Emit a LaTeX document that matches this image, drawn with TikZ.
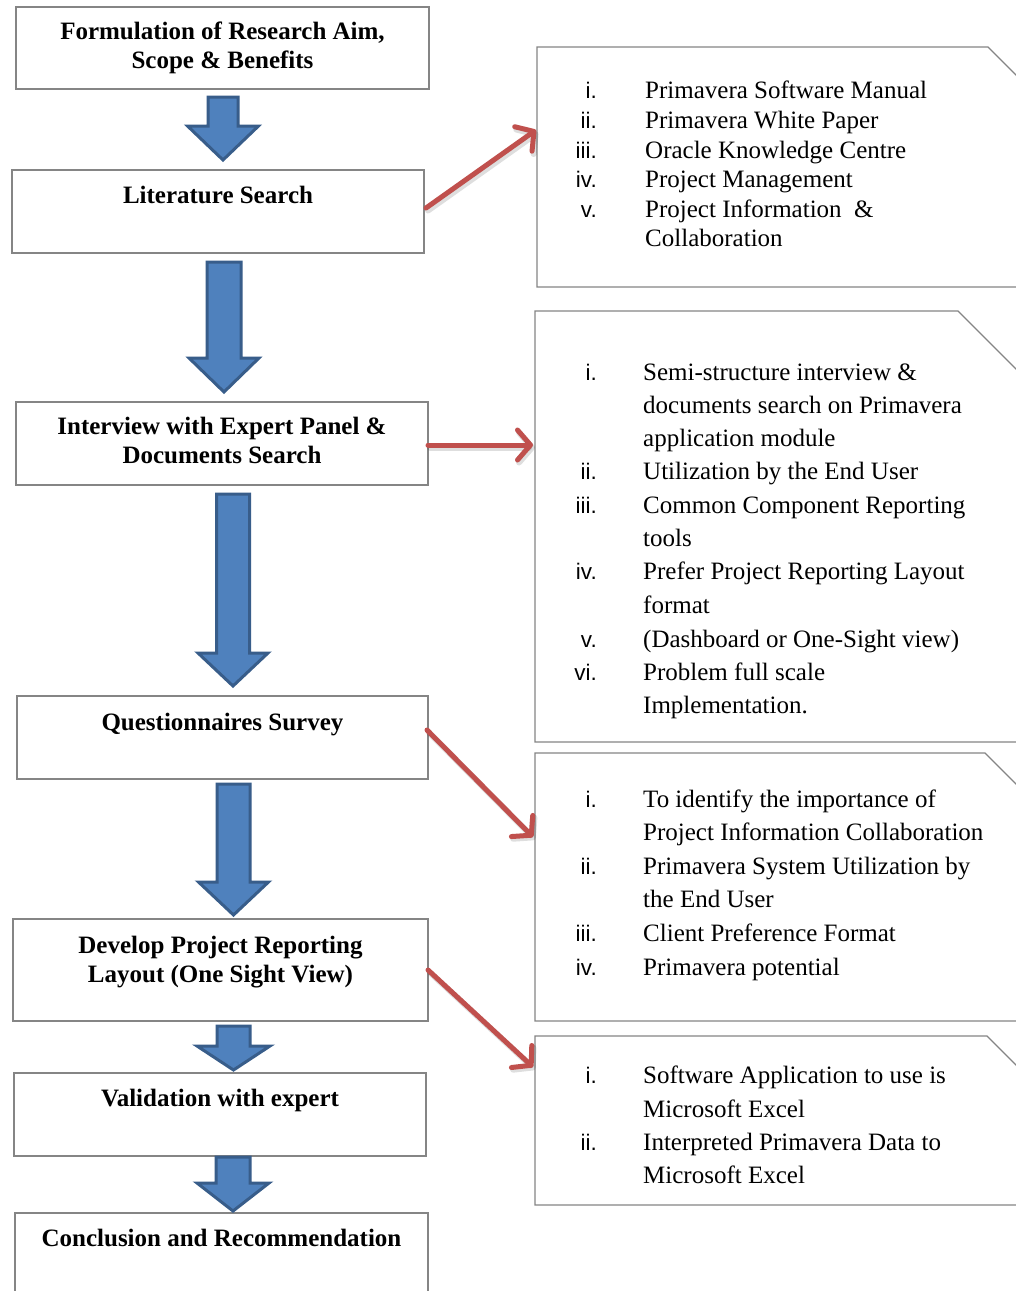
\documentclass[tikz,border=0pt]{standalone}
\usepackage{fontspec}
\setmainfont{Liberation Serif}
\newfontfamily\numfont{Liberation Sans}
\usetikzlibrary{arrows.meta,calc}
\definecolor{boxgray}{HTML}{858585}
\definecolor{arrowblue}{HTML}{4F81BD}
\definecolor{arrowedge}{HTML}{385D8A}
\definecolor{linkred}{HTML}{C0504D}
\tikzset{
  lbox/.style={draw=boxgray, line width=1.3pt, rectangle, inner sep=0pt},
  ltext/.style={anchor=base, font=\fontsize{25}{30}\selectfont\bfseries, inner sep=0pt},
  rframe/.style={draw=boxgray, line width=1.3pt, line join=miter},
  numtext/.style={anchor=base east, font=\numfont\fontsize{22.5}{28}\selectfont, inner sep=0pt},
  itemtext/.style={anchor=base west, font=\fontsize{25}{30}\selectfont, inner sep=0pt},
  blockarrow/.style={fill=arrowblue, draw=arrowedge, line width=3pt, line join=miter},
  redlink/.style={draw=linkred, line width=5pt, line cap=round,
    -{Straight Barb[length=13pt,width=30pt,line cap=round,line join=round]}},
  redshadow/.style={draw=black, opacity=0.13, line width=6pt, line cap=round,
    -{Straight Barb[length=13pt,width=30pt,line cap=round,line join=round]}}
}
\newcommand\blkarrow[6]{%
  \draw[blockarrow] (#1-#2,#3) -- (#1+#2,#3) -- (#1+#2,#4) -- (#1+#5,#4)
    -- (#1,#6) -- (#1-#5,#4) -- (#1-#2,#4) -- cycle;}
\newcommand\itm[5]{%
  \node[numtext] (#1n) at (597,#3) {#4};
  \node[itemtext] (#1) at (#2,#3) {#5};}
\newcommand\cnt[4]{%
  \node[itemtext] (#1) at (#2,#3) {#4};}
\begin{document}
\begin{tikzpicture}[x=1pt,y=-1pt]
\useasboundingbox (0,0) rectangle (1016,1291);
\clip (0,0) rectangle (1016,1291);
\fill[white] (0,0) rectangle (1016,1291);

% ---------- left boxes ----------
\node[lbox, minimum width=413pt, minimum height=82pt] (b1) at (222.5,48) {};
\node[lbox, minimum width=412pt, minimum height=83pt] (b2) at (218,211.5) {};
\node[lbox, minimum width=412pt, minimum height=83pt] (b3) at (222,443.5) {};
\node[lbox, minimum width=411pt, minimum height=83pt] (b4) at (222.5,737.5) {};
\node[lbox, minimum width=415pt, minimum height=102pt] (b5) at (220.5,970) {};
\node[lbox, minimum width=412pt, minimum height=83pt] (b6) at (220,1114.5) {};
\node[lbox, minimum width=413pt, minimum height=107pt] (b7) at (221.5,1266.5) {};

\node[ltext] (b1t) at (222.5,39) {Formulation of Research Aim,};
\node[ltext] (b1u) at (222.5,68) {Scope \& Benefits};
\node[ltext] (b2t) at (218,203) {Literature Search};
\node[ltext] (b3t) at (222,434) {Interview with Expert Panel \&};
\node[ltext] (b3u) at (222,463) {Documents Search};
\node[ltext] (b4t) at (222.5,730) {Questionnaires Survey};
\node[ltext] (b5t) at (220.5,953) {Develop Project Reporting};
\node[ltext] (b5u) at (220.5,982) {Layout (One Sight View)};
\node[ltext] (b6t) at (220,1106) {Validation with expert};
\node[ltext] (b7t) at (221.5,1246) {Conclusion and Recommendation};

% ---------- blue block arrows ----------
\blkarrow{223}{15}{97}{126}{35.5}{160}
\blkarrow{224}{17}{262}{358}{35}{392}
\blkarrow{233}{16.5}{494}{653}{35}{686}
\blkarrow{233.5}{16.5}{784}{882}{35}{915}
\blkarrow{233.5}{16.5}{1026}{1046}{36.5}{1070}
\blkarrow{233}{17}{1157}{1183}{36}{1211}

% ---------- right boxes (snipped corner) ----------
\draw[rframe] (1100,287) -- (537,287) -- (537,47) -- (988,47) -- ++(200,200);
\draw[rframe] (1100,742) -- (535,742) -- (535,311) -- (958,311) -- ++(200,200);
\draw[rframe] (1100,1021) -- (535,1021) -- (535,753) -- (985,753) -- ++(200,200);
\draw[rframe] (1100,1205) -- (535,1205) -- (535,1036) -- (987,1036) -- ++(200,200);

% R1
\itm{r1a}{645}{98}{i.}{Primavera Software Manual}
\itm{r1b}{645}{128}{ii.}{Primavera White Paper}
\itm{r1c}{645}{158}{iii.}{Oracle Knowledge Centre}
\itm{r1d}{645}{187}{iv.}{Project Management}
\itm{r1e}{645}{217}{v.}{Project Information\ \ \&}
\cnt{r1f}{645}{246}{Collaboration}
% R2
\itm{r2a}{643}{380}{i.}{Semi-structure interview \&}
\cnt{r2b}{643}{413}{documents search on Primavera}
\cnt{r2c}{643}{446}{application module}
\itm{r2d}{643}{479}{ii.}{Utilization by the End User}
\itm{r2e}{643}{513}{iii.}{Common Component Reporting}
\cnt{r2f}{643}{546}{tools}
\itm{r2g}{643}{579}{iv.}{Prefer Project Reporting Layout}
\cnt{r2h}{643}{613}{format}
\itm{r2i}{643}{647}{v.}{(Dashboard or One-Sight view)}
\itm{r2j}{643}{680}{vi.}{Problem full scale}
\cnt{r2k}{643}{713}{Implementation.}
% R3
\itm{r3a}{643}{807}{i.}{To identify the importance of}
\cnt{r3b}{643}{840}{Project Information Collaboration}
\itm{r3c}{643}{874}{ii.}{Primavera System Utilization by}
\cnt{r3d}{643}{907}{the End User}
\itm{r3e}{643}{941}{iii.}{Client Preference Format}
\itm{r3f}{643}{975}{iv.}{Primavera potential}
% R4
\itm{r4a}{643}{1083}{i.}{Software Application to use is}
\cnt{r4b}{643}{1117}{Microsoft Excel}
\itm{r4c}{643}{1150}{ii.}{Interpreted Primavera Data to}
\cnt{r4d}{643}{1183}{Microsoft Excel}

% ---------- red links ----------
\coordinate (ra1s) at (426,208);  \coordinate (ra1e) at (536,130);
\coordinate (ra2s) at (428,445);  \coordinate (ra2e) at (533,445);
\coordinate (ra3s) at (427,730);  \coordinate (ra3e) at (533,837);
\coordinate (ra4s) at (428,970);  \coordinate (ra4e) at (533,1067);
\foreach \a in {1,2,3,4}{
  \draw[redshadow, transform canvas={shift={(2pt,-2.5pt)}}] (ra\a s) -- (ra\a e);
  \draw[redlink] (ra\a s) -- (ra\a e);
}
\end{tikzpicture}
\end{document}
